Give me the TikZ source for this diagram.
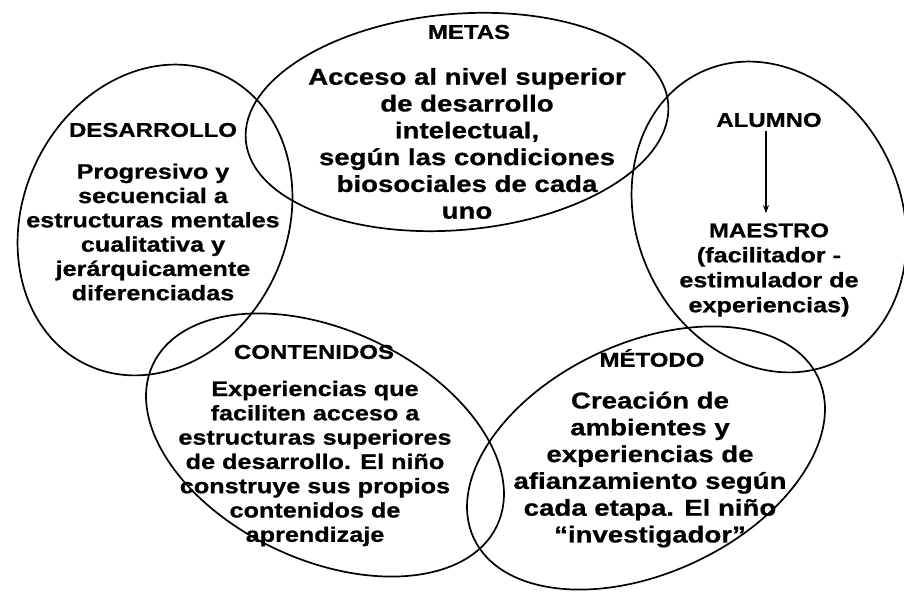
\documentclass[tikz,border=0pt]{standalone}
\usepackage{fontspec}
\setmainfont[FakeStretch=1.2, BoldFeatures={FakeBold=0.8}]{Liberation Sans}
\usetikzlibrary{shapes.geometric,arrows.meta}
\begin{document}
\begin{tikzpicture}[x=1pt,y=1pt,
  ring/.style={draw=black, line width=1.7pt, ellipse, inner sep=0pt},
  ttl/.style={font=\bfseries\fontsize{20}{24}\selectfont, inner sep=1pt},
  bodyL/.style={font=\bfseries\fontsize{23}{26.8}\selectfont, align=center, inner sep=0pt},
  bodyS/.style={font=\bfseries\fontsize{21}{24.3}\selectfont, align=center, inner sep=0pt}]
\useasboundingbox[fill=white] (0,0) rectangle (904,593);
% rings
\node[ring, minimum width=424pt, minimum height=216pt, rotate=5] (metasring) at (457,471) {};
\node[ring, minimum width=264pt, minimum height=320pt, rotate=-25] (desring) at (155,373) {};
\node[ring, minimum width=264pt, minimum height=320pt, rotate=25] (alring) at (769,376) {};
\node[ring, minimum width=380pt, minimum height=230pt, rotate=-25] (conring) at (325,148) {};
\node[ring, minimum width=380pt, minimum height=230pt, rotate=25] (metring) at (646,135) {};
% texts
\node[ttl] (metas) at (469,561) {METAS};
\node[bodyL] (metasb) at (467,449.5) {Acceso al nivel superior\\de desarrollo\\intelectual,\\según las condiciones\\biosociales de cada\\uno};
\node[ttl] (des) at (153,463) {DESARROLLO};
\node[bodyS] (desb) at (153,361) {Progresivo y\\secuencial a\\estructuras mentales\\cualitativa y\\jerárquicamente\\diferenciadas};
\node[ttl] (alumno) at (769,473) {ALUMNO};
\node[bodyS, font=\bfseries\fontsize{21}{25}\selectfont] (maestro) at (769,323) {\fontsize{20}{25}\selectfont MAESTRO\\(facilitador -\\estimulador de\\experiencias)};
\node[ttl] (con) at (314,241) {CONTENIDOS};
\node[bodyS] (conb) at (315,129.5) {Experiencias que\\faciliten acceso a\\estructuras superiores\\de desarrollo. El niño\\construye sus propios\\contenidos de\\aprendizaje};
\node[ttl] (met) at (652,235) {MÉTODO};
\node[bodyL] (metb) at (650,123.5) {Creación de\\ambientes y\\experiencias de\\afianzamiento según\\cada etapa. El niño\\“investigador”};
% arrow
\path (alumno.south) ++(-3,-3) coordinate (astart);
\path (astart |- maestro.north) ++(0,10) coordinate (aend);
\draw[line width=1.3pt, -{Stealth[length=8pt,width=6pt]}] (astart) -- (aend);
\end{tikzpicture}
\end{document}
